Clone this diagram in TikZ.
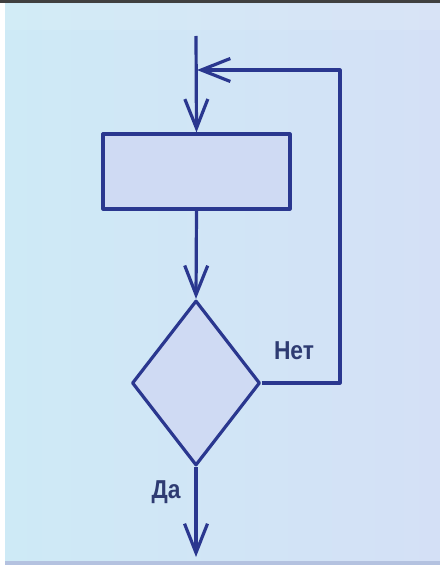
\documentclass[tikz,border=0pt]{standalone}
\usepackage{fontspec}
\setmainfont{Liberation Sans}
\usetikzlibrary{shapes.geometric,arrows.meta}
\definecolor{ink}{HTML}{2A378F}
\definecolor{txt}{HTML}{2E3B72}
\definecolor{bgl}{HTML}{CEEAF6}
\definecolor{bgr}{HTML}{D4E0F6}
\definecolor{boxfill}{HTML}{CFDAF3}
\definecolor{stripe}{HTML}{B4C2E0}
\tikzset{
  flow/.style={draw=ink, line width=3.2bp, line join=round},
  conn/.style={ink, line width=3.2bp, line join=round, -{Straight Barb[length=29bp,width=23bp,line width=3.2bp]}},
  lbl/.style={text=txt, font=\bfseries\fontsize{26}{28}\selectfont, inner sep=0pt, xscale=0.88}
}
\begin{document}
\begin{tikzpicture}[x=1bp,y=-1bp]
\useasboundingbox (0,0) rectangle (440,569);
% background
\fill[white] (0,0) rectangle (440,569);
\shade[left color=bgl, right color=bgr] (5,4) rectangle (440,561);
\fill[white, opacity=0.1] (5,4) rectangle (440,30);
\fill[black!75] (0,0) rectangle (440,3);
\fill[stripe] (5,561) rectangle (440,565);
% nodes
\coordinate (start) at (196,36);
\coordinate (j) at (197,70);
\node[flow, fill=boxfill, rectangle, minimum width=187bp, minimum height=75bp, inner sep=0pt] (p) at (196.5,171.5) {};
\node[flow, fill=boxfill, diamond, minimum width=128bp, minimum height=165bp, inner sep=0pt] (d) at (196,383) {};
\coordinate (end) at (196,557);
\coordinate (r) at (340,383);
% connectors
\draw[conn] (start) -- (p.north);
\draw[conn] (p.south) -- (d.north);
\draw[conn] (d.east) -- (r) |- (j);
\draw[conn] (d.south) -- (end);
% labels
\node[lbl] (no) at (294,351) {Нет};
\node[lbl] (yes) at (166,492) {Да};
\end{tikzpicture}
\end{document}
